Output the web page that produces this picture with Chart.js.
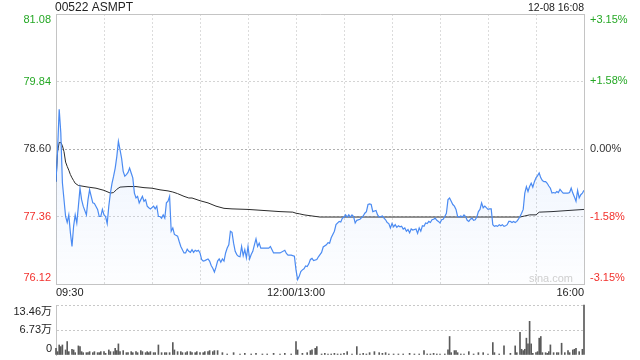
<!DOCTYPE html>
<html>
<head>
<meta charset="utf-8">
<script src="https://cdn.jsdelivr.net/npm/chart.js@4.4.0/dist/chart.umd.min.js"></script>
<style>
  html, body { margin: 0; padding: 0; background: #fff; }
  #wrap { position: relative; width: 640px; height: 360px; }
  #priceChart { position: absolute; left: 0; top: 0; }
  #volChart { position: absolute; left: 0; top: 300px; }
</style>
</head>
<body>
<div id="wrap">
  <canvas id="priceChart" width="640" height="300"></canvas>
  <canvas id="volChart" width="640" height="60"></canvas>
</div>
<script>
const stockTitle = "00522 ASMPT";
const stampText = "12-08 16:08";
const prevClose = 78.60;

// minutes since 09:30, lunch break removed (150 = 12:00/13:00, 330 = 16:00)
const timeLabels = ["09:30", "12:00/13:00", "16:00"];
const timeLabelMinutes = [0, 150, 330];

const priceTicks = [76.12, 77.36, 78.60, 79.84, 81.08];
const pctTicks = [-3.15, -1.58, 0, 1.58, 3.15];
const pctLabels = ["-3.15%", "-1.58%", "0.00%", "+1.58%", "+3.15%"];

const priceMinutes = [
  0,1,2,3,4,6,7,8,9,10,11,12,13,14,15,16,17,19,20,21,22,23,24,26,27,28,29,30,31,32,
  33,34,35,36,37,38,39,40,41,42,43,44,45,46,47,48,49,50,51,52,53,54,55,56,57,58,59,61,62,63,
  64,65,66,67,68,69,70,71,72,73,74,76,77,78,80,81,82,83,84,85,86,87,88,89,90,91,92,93,95,96,
  97,98,99,100,101,102,103,104,105,106,107,108,109,110,111,112,113,114,115,116,117,118,119,120,121,122,123,124,125,126,
  127,128,129,131,133,134,135,136,140,143,144,145,147,149,150,151,152,153,154,155,156,157,158,159,160,161,163,164,165,166,
  167,169,170,171,172,174,175,177,178,179,180,181,182,183,184,185,186,187,188,190,192,193,194,195,196,197,198,200,201,202,
  203,204,205,206,207,208,209,210,211,212,213,214,215,216,217,218,219,220,221,222,223,225,226,227,228,229,230,231,232,233,
  234,235,236,237,238,239,240,241,242,243,244,245,246,247,248,249,250,251,252,253,254,255,256,257,258,259,260,261,262,263,
  264,265,266,267,268,270,271,272,273,274,275,276,277,278,279,280,281,282,283,284,285,286,287,288,289,290,291,292,293,294,
  295,296,297,298,299,300,301,302,303,304,305,306,307,308,309,310,311,312,313,314,315,316,317,318,319,320,321,322,323,324,
  325,326,327,328,329,330
];
const prices = [
  78.00,78.60,79.33,78.90,77.98,77.36,77.25,77.39,77.06,76.81,77.18,77.39,77.24,77.55,77.88,77.67,77.55,77.39,77.67,77.85,77.73,77.61,77.60,77.49,77.36,77.36,77.49,77.39,77.36,77.23,
  77.55,77.79,77.97,78.10,78.25,78.46,78.74,78.59,78.43,78.19,78.10,78.13,78.17,78.25,78.16,78.07,77.79,77.70,77.73,77.61,77.67,77.73,77.64,77.67,77.55,77.52,77.50,77.55,77.50,77.55,
  77.36,77.36,77.33,77.39,77.33,77.61,77.64,77.73,77.09,77.15,77.03,77.00,76.90,76.81,76.69,76.69,76.76,76.72,76.70,76.75,76.70,76.74,76.72,76.74,76.69,76.57,76.54,76.55,76.58,76.54,
  76.46,76.41,76.34,76.43,76.54,76.58,76.52,76.58,76.54,76.69,76.78,76.84,77.09,77.07,76.87,76.72,76.66,76.63,76.62,76.81,76.64,76.75,76.60,76.81,76.58,76.66,76.72,76.84,76.95,76.81,
  76.87,76.78,76.78,76.78,76.78,76.81,76.75,76.69,76.69,76.74,76.68,76.65,76.65,76.63,76.38,76.20,76.26,76.35,76.38,76.40,76.45,76.44,76.49,76.57,76.59,76.55,76.57,76.62,76.66,76.70,
  76.80,76.84,76.88,76.87,76.97,77.09,77.21,77.27,77.26,77.33,77.35,77.39,77.35,77.39,77.35,77.39,77.36,77.24,77.29,77.31,77.37,77.42,77.45,77.58,77.59,77.58,77.45,77.47,77.39,77.35,
  77.36,77.37,77.33,77.30,77.25,77.23,77.15,77.23,77.17,77.21,77.16,77.19,77.17,77.18,77.13,77.15,77.09,77.12,77.06,77.13,77.11,77.13,77.05,77.15,77.09,77.19,77.18,77.24,77.23,77.27,
  77.25,77.30,77.31,77.33,77.29,77.27,77.24,77.30,77.31,77.36,77.42,77.67,77.70,77.64,77.58,77.55,77.49,77.36,77.35,77.37,77.35,77.39,77.36,77.29,77.27,77.31,77.33,77.29,77.30,77.35,
  77.45,77.49,77.61,77.52,77.55,77.49,77.50,77.50,77.21,77.18,77.19,77.18,77.21,77.19,77.21,77.18,77.19,77.21,77.27,77.27,77.25,77.27,77.25,77.27,77.31,77.36,77.42,77.49,77.79,77.91,
  77.82,77.91,77.97,77.90,78.00,78.07,78.11,78.16,78.07,78.02,78.00,78.00,77.97,77.92,77.88,77.79,77.80,77.79,77.82,77.80,77.86,77.82,77.79,77.79,77.79,77.79,77.80,77.88,77.79,77.72,
  77.64,77.84,77.70,77.76,77.79,77.84
];

const avgMinutes = [
  0,1,2,3,4,5,6,7,8,9,10,11,12,14,20,25,30,34,36,38,40,45,50,55,60,65,70,73,76,80,
  83,85,90,95,100,105,110,120,130,140,148,150,152,155,160,165,200,250,290,293,296,300,302,310,320,330
];
const avgPrices = [
  78.00,78.55,78.72,78.72,78.66,78.55,78.36,78.28,78.21,78.13,78.07,78.02,77.97,77.93,77.90,77.88,77.84,77.79,77.80,77.86,77.90,77.91,77.91,77.89,77.88,77.85,77.83,77.81,77.78,77.73,
  77.70,77.70,77.65,77.61,77.55,77.51,77.50,77.49,77.47,77.45,77.44,77.42,77.41,77.39,77.37,77.35,77.35,77.35,77.35,77.37,77.39,77.39,77.44,77.45,77.47,77.49
];

const volTicks = [0, 67300, 134600];
const volLabels = ["0", "6.73万", "13.46万"];
const volMinutes = [
  0,1,2,3,4,6,7,8,10,11,12,14,15,16,17,19,20,21,23,24,26,27,28,30,31,33,34,36,37,38,
  39,40,42,44,45,47,48,50,51,53,54,56,57,58,59,61,62,64,66,68,69,71,73,74,76,78,79,81,82,84,
  85,87,88,90,92,93,95,96,98,99,101,104,107,111,115,118,122,125,129,132,136,140,143,147,150,151,154,157,159,160,
  162,163,166,168,170,172,174,176,178,180,182,185,188,190,192,194,196,199,202,204,206,208,211,214,217,221,224,227,230,232,
  234,236,238,240,243,245,246,247,249,250,251,253,255,258,261,264,267,270,273,274,277,280,284,287,288,290,291,292,293,294,
  295,296,297,298,300,301,302,303,304,306,307,308,309,311,313,314,316,318,320,321,323,324,325,327,329,330
];
const volumes = [
  18000,9000,27000,22600,27000,13600,36200,9000,15400,13600,6300,24500,22600,9000,6300,6300,6300,9000,6300,9000,6300,6300,9000,9000,4500,13600,9000,9000,18000,11800,
  29900,9000,11800,6300,6300,9000,6300,9000,6300,11800,9000,6300,9000,6300,9000,6300,6300,27000,6300,6300,6300,6300,33500,13600,9000,9000,6300,6300,9000,9000,
  6300,6300,9000,6300,6300,9000,9000,11800,9000,11800,11800,6300,2700,6300,2700,4500,2700,4500,2700,2700,4500,2700,4500,2700,36200,13600,4500,6300,11800,13600,
  18000,22600,2700,4500,2700,2700,4500,2700,2700,4500,9000,2700,22600,2700,4500,2700,6300,9000,6300,4500,6300,2700,2700,2700,2700,4500,2700,2700,11800,2700,
  2700,4500,2700,2700,2700,13600,49800,6300,11800,11800,6300,2700,2700,9000,2700,6300,6300,2700,33500,6300,2700,24500,4500,24500,6300,60700,15400,11800,15400,45300,
  29900,90600,29900,4500,6300,9000,45300,49800,6300,6300,4500,9000,27200,6300,6300,6300,31700,6300,11800,6300,13600,15400,18100,9000,15400,134600
];

const FONT = '"Liberation Sans", Arial, "Noto Sans CJK SC", sans-serif';
const GREEN = '#25a825';
const RED = '#f2302c';
const BORDER = '#c4c4c4';

function valueColor(diff) {
    if (Math.abs(diff) < 0.0001) return '#333';
    return diff > 0 ? GREEN : RED;
}

function toPoints(xs, ys) {
    return xs.map((x, i) => ({ x: x, y: ys[i] }));
}

const priceText = {
    id: 'priceText',
    afterDraw(chart) {
        const { ctx, chartArea: area, scales } = chart;
        ctx.save();
        ctx.textBaseline = 'middle';

        ctx.fillStyle = '#222';
        ctx.font = '12px ' + FONT;
        ctx.textAlign = 'left';
        ctx.fillText(stockTitle, area.left - 1, 8);
        ctx.font = '10.5px ' + FONT;
        ctx.textAlign = 'right';
        ctx.fillText(stampText, area.right, 8);

        ctx.font = '11px ' + FONT;
        const last = priceTicks.length - 1;
        priceTicks.forEach((v, i) => {
            let y = scales.y.getPixelForValue(v);
            if (i === 0) y -= 6;
            if (i === last) y += 6;
            ctx.fillStyle = valueColor(v - prevClose);
            ctx.textAlign = 'right';
            ctx.fillText(v.toFixed(2), area.left - 5, y);
        });
        pctTicks.forEach((v, i) => {
            let y = scales.yPct.getPixelForValue(v);
            if (i === 0) y -= 6;
            if (i === last) y += 6;
            ctx.fillStyle = valueColor(v);
            ctx.textAlign = 'left';
            ctx.fillText(pctLabels[i], area.right + 6, y);
        });

        ctx.fillStyle = '#222';
        const aligns = ['left', 'center', 'right'];
        timeLabels.forEach((t, i) => {
            ctx.textAlign = aligns[i];
            ctx.fillText(t, scales.x.getPixelForValue(timeLabelMinutes[i]), area.bottom + 9);
        });

        ctx.fillStyle = '#cfcfcf';
        ctx.textAlign = 'right';
        ctx.fillText('sina.com', area.right - 11, area.bottom - 5);
        ctx.restore();
    }
};

const volText = {
    id: 'volText',
    afterDraw(chart) {
        const { ctx, chartArea: area, scales } = chart;
        ctx.save();
        ctx.font = '11px ' + FONT;
        ctx.textBaseline = 'middle';
        ctx.textAlign = 'right';
        ctx.fillStyle = '#222';
        const last = volTicks.length - 1;
        volTicks.forEach((v, i) => {
            let y = scales.y.getPixelForValue(v);
            if (i === 0) y -= 6;
            if (i === last) y += 7;
            ctx.fillText(volLabels[i], area.left - 4, y);
        });
        ctx.restore();
    }
};

document.addEventListener('DOMContentLoaded', function () {
    new Chart('priceChart', {
        type: 'line',
        data: {
            datasets: [{
                data: toPoints(priceMinutes, prices),
                borderColor: '#4b8bf2',
                borderWidth: 1.2,
                pointRadius: 0,
                tension: 0,
                fill: 'start',
                backgroundColor: function (c) {
                    const area = c.chart.chartArea;
                    if (!area) return 'rgba(0,0,0,0)';
                    const g = c.chart.ctx.createLinearGradient(0, area.top, 0, area.bottom);
                    g.addColorStop(0, 'rgba(75,139,242,0.16)');
                    g.addColorStop(1, 'rgba(75,139,242,0.01)');
                    return g;
                }
            }, {
                data: toPoints(avgMinutes, avgPrices),
                borderColor: '#2b2b2b',
                borderWidth: 1,
                pointRadius: 0,
                tension: 0,
                fill: false
            }]
        },
        options: {
            responsive: false,
            animation: false,
            layout: { padding: { left: 56, right: 56, top: 14, bottom: 16 } },
            plugins: { legend: { display: false }, tooltip: { enabled: false } },
            scales: {
                x: {
                    type: 'linear', min: 0, max: 330,
                    ticks: { stepSize: 30, display: false },
                    grid: { color: '#dcdcdc', drawTicks: false },
                    border: { display: true, color: BORDER, dash: [2, 2] }
                },
                xTop: {
                    type: 'linear', position: 'top', min: 0, max: 330,
                    ticks: { display: false },
                    grid: { drawOnChartArea: false, drawTicks: false },
                    border: { display: true, color: BORDER }
                },
                y: {
                    type: 'linear', position: 'left', min: 76.12, max: 81.08,
                    afterBuildTicks: s => { s.ticks = priceTicks.map(v => ({ value: v })); },
                    ticks: { display: false },
                    grid: {
                        drawTicks: false,
                        color: c => (c.tick && Math.abs(c.tick.value - prevClose) < 0.001) ? '#b0b0b0' : '#d4d4d4'
                    },
                    border: { display: true, color: BORDER, dash: [2, 2] }
                },
                yPct: {
                    type: 'linear', position: 'right', min: -3.15, max: 3.15,
                    afterBuildTicks: s => { s.ticks = pctTicks.map(v => ({ value: v })); },
                    ticks: { display: false },
                    grid: { drawOnChartArea: false, drawTicks: false },
                    border: { display: true, color: BORDER }
                }
            }
        },
        plugins: [priceText]
    });

    new Chart('volChart', {
        type: 'bar',
        data: {
            datasets: [{
                data: toPoints(volMinutes, volumes),
                backgroundColor: '#5a5a5a',
                barThickness: 1,
                clip: false
            }]
        },
        options: {
            responsive: false,
            animation: false,
            layout: { padding: { left: 56, right: 56, top: 5, bottom: 5 } },
            plugins: { legend: { display: false }, tooltip: { enabled: false } },
            scales: {
                x: { type: 'linear', min: 0, max: 330, offset: false, display: false },
                y: {
                    min: 0, max: 134600,
                    afterBuildTicks: s => { s.ticks = volTicks.map(v => ({ value: v })); },
                    ticks: { display: false },
                    grid: {
                        drawTicks: false,
                        color: c => (c.tick && c.tick.value === 0) ? 'rgba(0,0,0,0)' : '#c8c8c8'
                    },
                    border: { display: true, color: BORDER, dash: [2, 2] }
                }
            }
        },
        plugins: [volText]
    });
});
</script>
</body>
</html>
